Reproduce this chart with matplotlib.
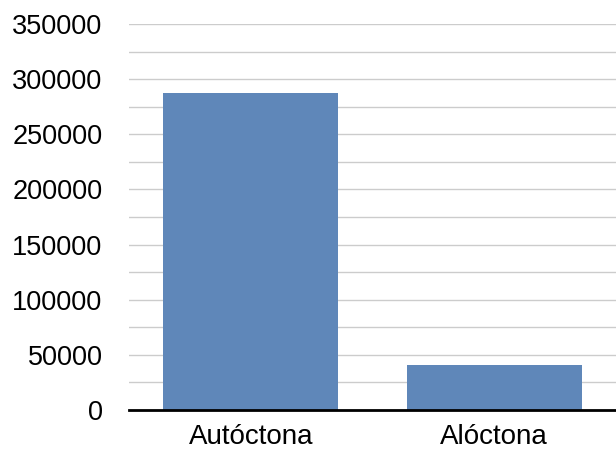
import matplotlib
matplotlib.use("Agg")
import matplotlib.pyplot as plt
from matplotlib.ticker import MultipleLocator

categories = ["Autóctona", "Alóctona"]
values = [287000, 41000]
yticks = [0, 50000, 100000, 150000, 200000, 250000, 300000, 350000]

plt.rcParams['font.family'] = ['Liberation Sans', 'DejaVu Sans']

fig = plt.figure(figsize=(6.16, 4.50), dpi=100)
ax = fig.add_axes([129/616, 40/450, (616-129)/616, (410-24)/450])

x = list(range(len(categories)))
ax.bar(x, values, width=0.72, color="#5f87b9", zorder=3)
ax.set_xlim(-0.5, 1.5)
ax.set_ylim(0, 350000)
ax.set_yticks(yticks)
ax.set_yticklabels([str(v) for v in yticks], fontsize=19.5)
ax.yaxis.set_minor_locator(MultipleLocator(25000))
ax.set_xticks(x)
ax.set_xticklabels(categories, fontsize=20)
ax.tick_params(axis='y', which='both', length=0, pad=19)
ax.tick_params(axis='x', length=0, pad=10)
ax.grid(axis='y', which='both', color='#cccccc', linewidth=1, zorder=0)
for s in ['top', 'right', 'left']:
    ax.spines[s].set_visible(False)
ax.spines['bottom'].set_linewidth(2)
ax.spines['bottom'].set_color('black')
ax.spines['bottom'].set_zorder(4)

fig.savefig("out.png", dpi=100)
